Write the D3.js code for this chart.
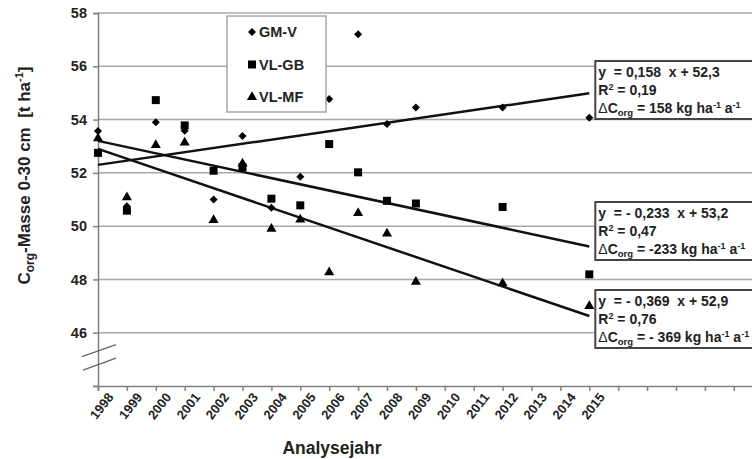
<!DOCTYPE html>
<html>
<head>
<meta charset="utf-8">
<script src="https://cdn.jsdelivr.net/npm/d3@7"></script>
<style>
  body { margin: 0; background: #fff; }
  text { font-family: "Liberation Sans", Arial, sans-serif; font-weight: bold; white-space: pre; }
</style>
</head>
<body>
<div id="chart"></div>
<script>
// values
const years = [1998, 1999, 2000, 2001, 2002, 2003, 2004, 2005, 2006, 2007, 2008, 2009, 2012, 2015];
const gmV  = [53.57, 50.75, 53.9, 53.58, 51.0, 53.38, 50.69, 51.85, 54.77, 57.2, 53.83, 54.45, 54.45, 54.07];
const vlGB = [52.75, 50.58, 54.73, 53.78, 52.08, 52.22, 51.03, 50.78, 53.08, 52.02, 50.95, 50.85, 50.72, 48.19];
const vlMF = [53.3, 51.08, 53.04, 53.14, 50.23, 52.35, 49.9, 50.25, 48.27, 50.49, 49.72, 47.91, 47.85, 47.0];
const seriesNames = ["GM-V", "VL-GB", "VL-MF"];
const slopes = [0.158, -0.233, -0.369];
const intercepts = [52.3, 53.2, 52.9];
const eqText = ["y  = 0,158  x + 52,3", "y  = - 0,233  x + 53,2", "y  = - 0,369  x + 52,9"];
const r2Text = ["0,19", "0,47", "0,76"];
const deltaText = ["158", "-233", "- 369"];
const tickYears = d3.range(1998, 2016);
const yTicks = [46, 48, 50, 52, 54, 56, 58];

const width = 752, height = 459;
const margin = {top: 13, right: 0, bottom: 73, left: 98};

const svg = d3.select("#chart").append("svg")
  .attr("width", width)
  .attr("height", height);

const x = d3.scaleLinear()
  .domain([1998, 2021])
  .range([margin.left, margin.left + 23 * 28.9]);

const y = d3.scaleLinear()
  .domain([44, 58])
  .range([height - margin.bottom, margin.top]);

// gridlines
svg.append("g")
  .selectAll("line")
  .data(yTicks)
  .enter()
  .append("line")
    .attr("x1", margin.left)
    .attr("x2", width)
    .attr("y1", d => y(d))
    .attr("y2", d => y(d))
    .attr("stroke", "#a8a8a8")
    .attr("stroke-width", 1.5);

// y axis
const yAxis = svg.append("g")
  .attr("transform", `translate(${margin.left},0)`)
  .call(d3.axisLeft(y).tickValues(yTicks.concat([44])).tickSize(5).tickPadding(6)
        .tickFormat(d => d === 44 ? "" : d));
yAxis.select(".domain").attr("stroke", "#808080").attr("stroke-width", 1.5);
yAxis.selectAll(".tick line").attr("stroke", "#808080").attr("stroke-width", 1.5);
yAxis.selectAll("text").attr("font-size", 14.5).attr("fill", "#222")
  .style("font-family", "'Liberation Sans', Arial, sans-serif").style("font-weight", "bold");

// x axis
const xAxis = svg.append("g")
  .attr("transform", `translate(0,${height - margin.bottom})`)
  .call(d3.axisBottom(x).ticks(23).tickSize(5).tickPadding(4)
        .tickFormat(d => tickYears.includes(d) ? d : ""));
xAxis.select(".domain").attr("stroke", "#808080").attr("stroke-width", 1.5);
xAxis.selectAll(".tick line").attr("stroke", "#808080").attr("stroke-width", 1.5);
xAxis.selectAll("text")
  .attr("font-size", 13)
  .attr("fill", "#222")
  .style("font-family", "'Liberation Sans', Arial, sans-serif").style("font-weight", "bold")
  .attr("text-anchor", "end")
  .attr("transform", "translate(5,3) rotate(-52)")
  .attr("dy", "0.35em");

// axis break marks
const brk = svg.append("g").attr("stroke", "#666").attr("stroke-width", 1.3);
brk.append("line").attr("x1", 82).attr("y1", y(45.1)).attr("x2", 116).attr("y2", y(45.55));
brk.append("line").attr("x1", 83).attr("y1", y(44.6)).attr("x2", 116).attr("y2", y(45.05));

// regression lines
const lines = svg.append("g");
slopes.forEach((s, i) => {
  lines.append("line")
    .attr("x1", x(1998)).attr("y1", y(intercepts[i]))
    .attr("x2", x(2015)).attr("y2", y(intercepts[i] + s * (2015 - 1998)))
    .attr("stroke", "#111")
    .attr("stroke-width", 2.5);
});

// markers (diamond = rotated square)
const symbols = [d3.symbolSquare, d3.symbolSquare, d3.symbolTriangle];
const sizes = [32, 64, 44];
const rot = [45, 0, 0];
const allSeries = [gmV, vlGB, vlMF];
allSeries.forEach((vals, i) => {
  svg.append("g")
    .selectAll(".point")
    .data(vals)
    .enter()
    .append("path")
      .attr("class", "point")
      .attr("d", d3.symbol().type(symbols[i]).size(sizes[i]))
      .attr("transform", (d, j) => `translate(${x(years[j])},${y(d)}) rotate(${rot[i]})`)
      .attr("fill", "#000");
});

// legend
const legend = svg.append("g");
legend.append("rect")
  .attr("x", 227).attr("y", 16).attr("width", 99).attr("height", 96)
  .attr("fill", "#fff").attr("stroke", "#999").attr("stroke-width", 1.3);
seriesNames.forEach((name, i) => {
  const ly = 32 + i * 32.5;
  legend.append("path")
    .attr("d", d3.symbol().type(symbols[i]).size(sizes[i]))
    .attr("transform", `translate(252,${ly}) rotate(${rot[i]})`)
    .attr("fill", "#000");
  legend.append("text")
    .attr("x", 259).attr("y", ly + 5)
    .attr("font-size", 14.5)
    .attr("fill", "#222")
    .text(name);
});

// equation boxes
const boxTop = [61, 202, 290];
boxTop.forEach((top, i) => {
  const g = svg.append("g").attr("transform", `translate(${x(2015) + 6},${top})`);
  g.append("rect")
    .attr("width", 175).attr("height", 58)
    .attr("fill", "#fff").attr("stroke", "#444").attr("stroke-width", 2);
  g.append("text").attr("x", 3).attr("y", 16).attr("font-size", 14).attr("fill", "#222")
    .text(eqText[i]);
  const r = g.append("text").attr("x", 3).attr("y", 34).attr("font-size", 14).attr("fill", "#222");
  r.append("tspan").text("R");
  r.append("tspan").attr("font-size", 9).attr("dy", -5).text("2");
  r.append("tspan").attr("dy", 5).text(" = " + r2Text[i]);
  const t = g.append("text").attr("x", 3).attr("y", 52).attr("font-size", 14).attr("fill", "#222");
  t.append("tspan").style("font-weight", "normal").text("\u0394");
  t.append("tspan").text("C");
  t.append("tspan").attr("font-size", 9.5).attr("dy", 3).text("org");
  t.append("tspan").attr("dy", -3).text(" = " + deltaText[i] + " kg ha");
  t.append("tspan").attr("font-size", 9).attr("dy", -5).text("-1");
  t.append("tspan").attr("dy", 5).text(" a");
  t.append("tspan").attr("font-size", 9).attr("dy", -5).text("-1");
});

// axis titles
const yt = svg.append("text")
  .attr("transform", `translate(30,${y(51.9)}) rotate(-90)`)
  .attr("text-anchor", "middle")
  .attr("font-size", 17)
  .attr("fill", "#222");
yt.append("tspan").text("C");
yt.append("tspan").attr("font-size", 12).attr("dy", 4).text("org");
yt.append("tspan").attr("dy", -4).text("-Masse 0-30 cm  [t ha");
yt.append("tspan").attr("font-size", 11).attr("dy", -7).text("-1");
yt.append("tspan").attr("dy", 7).text("]");

svg.append("text")
  .attr("x", 332).attr("y", 454)
  .attr("text-anchor", "middle")
  .attr("font-size", 17.5)
  .attr("fill", "#222")
  .text("Analysejahr");
</script>
</body>
</html>
